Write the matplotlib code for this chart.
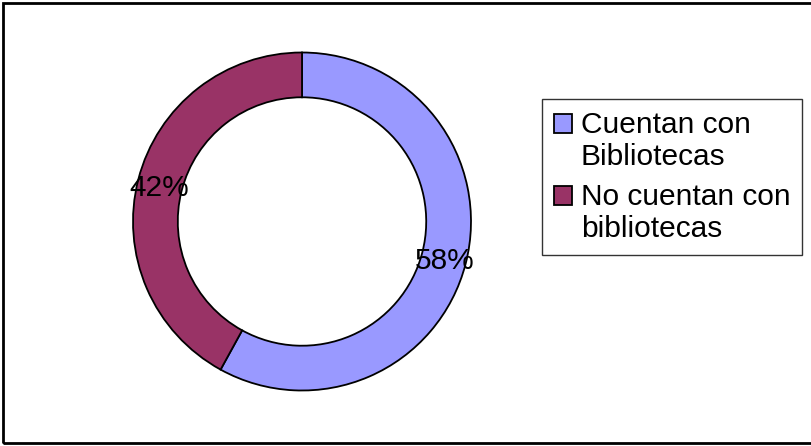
import matplotlib.pyplot as plt
from matplotlib.patches import Rectangle
from matplotlib.legend_handler import HandlerPatch

labels = ["Cuentan con\nBibliotecas", "No cuentan con\nbibliotecas"]
values = [58, 42]
colors = ["#9999FF", "#993366"]

plt.rcParams["font.family"] = ["Liberation Sans", "DejaVu Sans"]

W, H = 811, 446
fig = plt.figure(figsize=(W / 100, H / 100), dpi=100)

# outer frame of the chart area
fig.patches.append(Rectangle((2.5 / W, 3.5 / H), 1.0, (H - 6) / H,
                             transform=fig.transFigure, fill=False,
                             edgecolor="black", linewidth=2))

cx, cy, r = 302, 446 - 221.5, 169
ax = fig.add_axes([(cx - r) / W, (cy - r) / H, 2 * r / W, 2 * r / H])

wedges, texts, autotexts = ax.pie(
    values,
    colors=colors,
    startangle=90,
    counterclock=False,
    radius=1.0,
    autopct="%d%%",
    pctdistance=0.87,
    wedgeprops=dict(width=0.265, edgecolor="black", linewidth=1.3),
    textprops=dict(fontsize=21.5, color="black"),
)
for t in autotexts:
    t.set_verticalalignment("center_baseline")
ax.set_xlim(-1, 1)
ax.set_ylim(-1, 1)
ax.set_aspect("equal")


# square handle aligned with the first text line
def top_square(legend, orig_handle, xdescent, ydescent, width, height, fontsize):
    return Rectangle((-xdescent, -ydescent + 0.6 * fontsize), width, height)


leg = fig.legend(
    wedges, labels,
    loc="upper left",
    bbox_to_anchor=(542 / W, 1 - 99 / H),
    frameon=True, fancybox=False,
    fontsize=21.5,
    handlelength=0.6, handleheight=0.6, handletextpad=0.3,
    labelspacing=0.4, borderpad=0.4, borderaxespad=0,
    handler_map={type(wedges[0]): HandlerPatch(patch_func=top_square)},
)
leg.get_frame().set_edgecolor("black")
leg.get_frame().set_linewidth(1.0)
for t in leg.get_texts():
    t.set_linespacing(1.18)
for h in leg.legend_handles:
    h.set_linewidth(1.3)

fig.savefig("out.png", dpi=100)
